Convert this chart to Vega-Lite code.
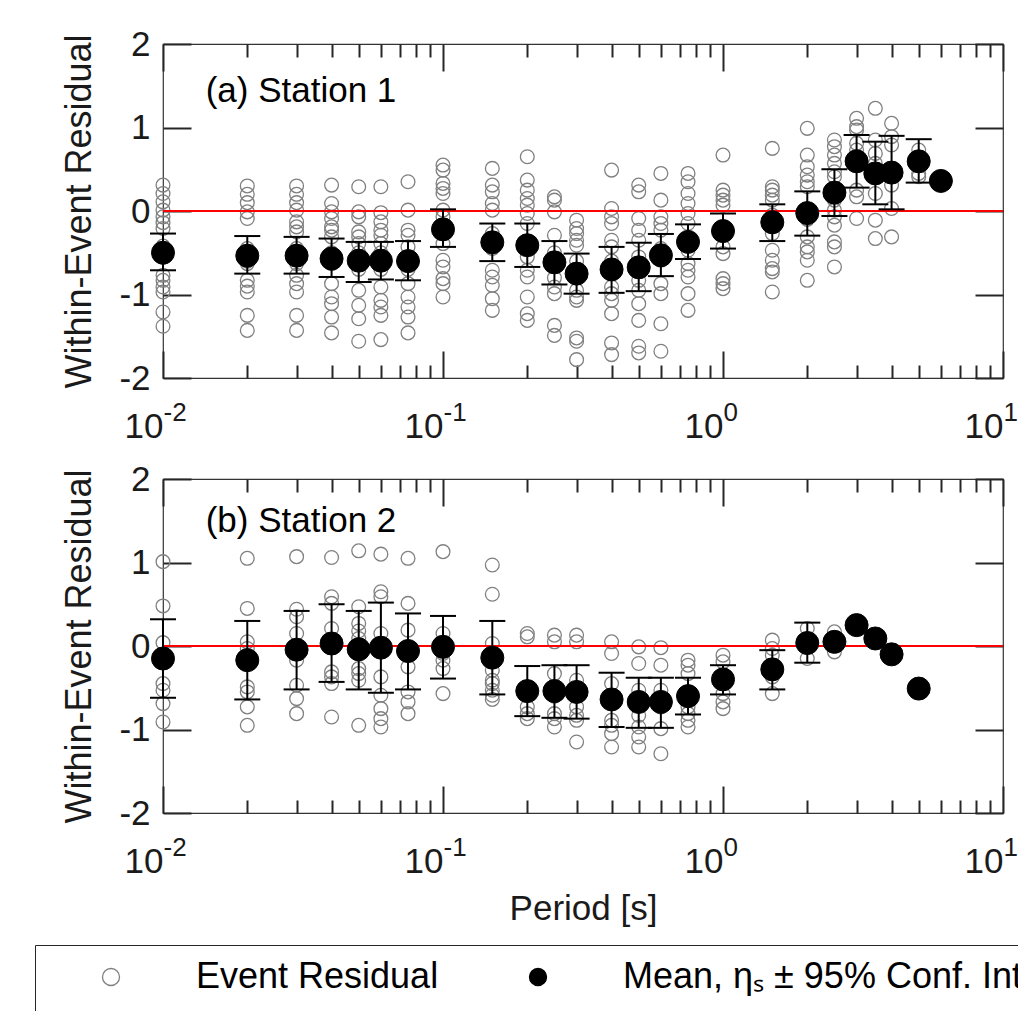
{
  "$schema": "https://vega.github.io/schema/vega-lite/v6.json",
  "padding": {"left": 34, "top": 26, "right": 0, "bottom": 0},
  "background": "white",
  "datasets": {
    "p1": [
      {"T":0.01,"v":0.31},{"T":0.01,"v":0.21},{"T":0.01,"v":0.11},{"T":0.01,"v":0.01},{"T":0.01,"v":-0.07},{"T":0.01,"v":-0.14},{"T":0.01,"v":-0.21},{"T":0.01,"v":-0.42},{"T":0.01,"v":-0.55},{"T":0.01,"v":-0.77},{"T":0.01,"v":-0.83},{"T":0.01,"v":-0.91},{"T":0.01,"v":-0.97},{"T":0.01,"v":-1.21},{"T":0.01,"v":-1.38},
      {"T":0.02,"v":0.30},{"T":0.02,"v":0.20},{"T":0.02,"v":0.10},{"T":0.02,"v":-0.01},{"T":0.02,"v":-0.09},{"T":0.02,"v":-0.45},{"T":0.02,"v":-0.60},{"T":0.02,"v":-0.63},{"T":0.02,"v":-0.83},{"T":0.02,"v":-0.90},{"T":0.02,"v":-0.97},{"T":0.02,"v":-1.25},{"T":0.02,"v":-1.43},
      {"T":0.03,"v":0.30},{"T":0.03,"v":0.20},{"T":0.03,"v":0.10},{"T":0.03,"v":0.01},{"T":0.03,"v":-0.13},{"T":0.03,"v":-0.19},{"T":0.03,"v":-0.25},{"T":0.03,"v":-0.45},{"T":0.03,"v":-0.63},{"T":0.03,"v":-0.77},{"T":0.03,"v":-0.87},{"T":0.03,"v":-0.97},{"T":0.03,"v":-1.25},{"T":0.03,"v":-1.43},
      {"T":0.04,"v":0.31},{"T":0.04,"v":0.09},{"T":0.04,"v":-0.01},{"T":0.04,"v":-0.09},{"T":0.04,"v":-0.19},{"T":0.04,"v":-0.23},{"T":0.04,"v":-0.31},{"T":0.04,"v":-0.50},{"T":0.04,"v":-0.63},{"T":0.04,"v":-0.87},{"T":0.04,"v":-1.03},{"T":0.04,"v":-1.11},{"T":0.04,"v":-1.27},{"T":0.04,"v":-1.46},
      {"T":0.05,"v":0.29},{"T":0.05,"v":-0.01},{"T":0.05,"v":-0.07},{"T":0.05,"v":-0.25},{"T":0.05,"v":-0.31},{"T":0.05,"v":-0.39},{"T":0.05,"v":-0.50},{"T":0.05,"v":-0.70},{"T":0.05,"v":-0.95},{"T":0.05,"v":-1.13},{"T":0.05,"v":-1.29},{"T":0.05,"v":-1.56},
      {"T":0.06,"v":0.29},{"T":0.06,"v":-0.02},{"T":0.06,"v":-0.13},{"T":0.06,"v":-0.23},{"T":0.06,"v":-0.29},{"T":0.06,"v":-0.39},{"T":0.06,"v":-0.50},{"T":0.06,"v":-0.70},{"T":0.06,"v":-0.91},{"T":0.06,"v":-1.07},{"T":0.06,"v":-1.15},{"T":0.06,"v":-1.25},{"T":0.06,"v":-1.54},
      {"T":0.075,"v":0.35},{"T":0.075,"v":0.01},{"T":0.075,"v":-0.23},{"T":0.075,"v":-0.29},{"T":0.075,"v":-0.43},{"T":0.075,"v":-0.70},{"T":0.075,"v":-0.87},{"T":0.075,"v":-1.03},{"T":0.075,"v":-1.15},{"T":0.075,"v":-1.27},{"T":0.075,"v":-1.46},
      {"T":0.1,"v":0.55},{"T":0.1,"v":0.49},{"T":0.1,"v":0.33},{"T":0.1,"v":0.27},{"T":0.1,"v":0.21},{"T":0.1,"v":0.01},{"T":0.1,"v":-0.07},{"T":0.1,"v":-0.39},{"T":0.1,"v":-0.59},{"T":0.1,"v":-0.67},{"T":0.1,"v":-0.81},{"T":0.1,"v":-0.87},{"T":0.1,"v":-1.03},
      {"T":0.15,"v":0.51},{"T":0.15,"v":0.31},{"T":0.15,"v":0.23},{"T":0.15,"v":0.09},{"T":0.15,"v":0.01},{"T":0.15,"v":-0.27},{"T":0.15,"v":-0.45},{"T":0.15,"v":-0.71},{"T":0.15,"v":-0.79},{"T":0.15,"v":-0.89},{"T":0.15,"v":-1.05},{"T":0.15,"v":-1.19},
      {"T":0.2,"v":0.65},{"T":0.2,"v":0.37},{"T":0.2,"v":0.25},{"T":0.2,"v":0.15},{"T":0.2,"v":0.07},{"T":0.2,"v":-0.03},{"T":0.2,"v":-0.15},{"T":0.2,"v":-0.55},{"T":0.2,"v":-0.71},{"T":0.2,"v":-0.79},{"T":0.2,"v":-1.03},{"T":0.2,"v":-1.23},{"T":0.2,"v":-1.31},
      {"T":0.25,"v":0.17},{"T":0.25,"v":0.13},{"T":0.25,"v":-0.01},{"T":0.25,"v":-0.29},{"T":0.25,"v":-0.50},{"T":0.25,"v":-0.63},{"T":0.25,"v":-0.80},{"T":0.25,"v":-0.91},{"T":0.25,"v":-0.99},{"T":0.25,"v":-1.37},{"T":0.25,"v":-1.49},
      {"T":0.3,"v":-0.11},{"T":0.3,"v":-0.21},{"T":0.3,"v":-0.27},{"T":0.3,"v":-0.35},{"T":0.3,"v":-0.41},{"T":0.3,"v":-0.60},{"T":0.3,"v":-0.95},{"T":0.3,"v":-1.03},{"T":0.3,"v":-1.07},{"T":0.3,"v":-1.52},{"T":0.3,"v":-1.56},{"T":0.3,"v":-1.78},
      {"T":0.4,"v":0.49},{"T":0.4,"v":0.03},{"T":0.4,"v":-0.07},{"T":0.4,"v":-0.15},{"T":0.4,"v":-0.35},{"T":0.4,"v":-0.43},{"T":0.4,"v":-0.60},{"T":0.4,"v":-0.91},{"T":0.4,"v":-0.99},{"T":0.4,"v":-1.07},{"T":0.4,"v":-1.23},{"T":0.4,"v":-1.58},{"T":0.4,"v":-1.72},
      {"T":0.5,"v":0.31},{"T":0.5,"v":0.23},{"T":0.5,"v":-0.09},{"T":0.5,"v":-0.23},{"T":0.5,"v":-0.35},{"T":0.5,"v":-0.55},{"T":0.5,"v":-0.83},{"T":0.5,"v":-0.95},{"T":0.5,"v":-1.11},{"T":0.5,"v":-1.31},{"T":0.5,"v":-1.62},{"T":0.5,"v":-1.70},
      {"T":0.6,"v":0.45},{"T":0.6,"v":0.13},{"T":0.6,"v":-0.07},{"T":0.6,"v":-0.15},{"T":0.6,"v":-0.23},{"T":0.6,"v":-0.45},{"T":0.6,"v":-0.59},{"T":0.6,"v":-0.87},{"T":0.6,"v":-0.99},{"T":0.6,"v":-1.35},{"T":0.6,"v":-1.68},
      {"T":0.75,"v":0.45},{"T":0.75,"v":0.35},{"T":0.75,"v":0.21},{"T":0.75,"v":0.09},{"T":0.75,"v":-0.03},{"T":0.75,"v":-0.15},{"T":0.75,"v":-0.47},{"T":0.75,"v":-0.63},{"T":0.75,"v":-0.71},{"T":0.75,"v":-0.79},{"T":0.75,"v":-0.99},{"T":0.75,"v":-1.19},
      {"T":1,"v":0.67},{"T":1,"v":0.25},{"T":1,"v":0.19},{"T":1,"v":0.13},{"T":1,"v":0.07},{"T":1,"v":-0.43},{"T":1,"v":-0.51},{"T":1,"v":-0.81},{"T":1,"v":-0.87},{"T":1,"v":-0.93},
      {"T":1.5,"v":0.75},{"T":1.5,"v":0.29},{"T":1.5,"v":0.25},{"T":1.5,"v":0.19},{"T":1.5,"v":0.13},{"T":1.5,"v":-0.05},{"T":1.5,"v":-0.27},{"T":1.5,"v":-0.47},{"T":1.5,"v":-0.59},{"T":1.5,"v":-0.69},{"T":1.5,"v":-0.73},{"T":1.5,"v":-0.97},
      {"T":2,"v":0.99},{"T":2,"v":0.67},{"T":2,"v":0.53},{"T":2,"v":0.43},{"T":2,"v":0.35},{"T":2,"v":0.29},{"T":2,"v":-0.10},{"T":2,"v":-0.31},{"T":2,"v":-0.43},{"T":2,"v":-0.49},{"T":2,"v":-0.59},{"T":2,"v":-0.83},
      {"T":2.5,"v":0.85},{"T":2.5,"v":0.77},{"T":2.5,"v":0.67},{"T":2.5,"v":0.57},{"T":2.5,"v":0.47},{"T":2.5,"v":0.41},{"T":2.5,"v":0.13},{"T":2.5,"v":0.01},{"T":2.5,"v":-0.07},{"T":2.5,"v":-0.17},{"T":2.5,"v":-0.37},{"T":2.5,"v":-0.43},{"T":2.5,"v":-0.67},
      {"T":3,"v":1.11},{"T":3,"v":1.01},{"T":3,"v":0.97},{"T":3,"v":0.81},{"T":3,"v":0.73},{"T":3,"v":0.25},{"T":3,"v":0.17},{"T":3,"v":-0.09},
      {"T":3.5,"v":1.23},{"T":3.5,"v":0.85},{"T":3.5,"v":0.69},{"T":3.5,"v":0.57},{"T":3.5,"v":0.21},{"T":3.5,"v":-0.11},{"T":3.5,"v":-0.33},
      {"T":4,"v":1.05},{"T":4,"v":0.89},{"T":4,"v":0.79},{"T":4,"v":0.45},{"T":4,"v":0.31},{"T":4,"v":0.03},{"T":4,"v":-0.31},
      {"T":5,"v":0.73},{"T":5,"v":0.59},{"T":5,"v":0.45},{"T":5,"v":0.41}
    ],
    "m1": [
      {"T":0.01,"m":-0.50,"lo":-0.71,"hi":-0.27},
      {"T":0.02,"m":-0.535,"lo":-0.75,"hi":-0.30},
      {"T":0.03,"m":-0.535,"lo":-0.75,"hi":-0.31},
      {"T":0.04,"m":-0.57,"lo":-0.79,"hi":-0.33},
      {"T":0.05,"m":-0.595,"lo":-0.85,"hi":-0.37},
      {"T":0.06,"m":-0.595,"lo":-0.82,"hi":-0.37},
      {"T":0.075,"m":-0.60,"lo":-0.83,"hi":-0.36},
      {"T":0.1,"m":-0.22,"lo":-0.43,"hi":0.02},
      {"T":0.15,"m":-0.375,"lo":-0.60,"hi":-0.15},
      {"T":0.2,"m":-0.41,"lo":-0.67,"hi":-0.15},
      {"T":0.25,"m":-0.615,"lo":-0.88,"hi":-0.36},
      {"T":0.3,"m":-0.75,"lo":-0.99,"hi":-0.51},
      {"T":0.4,"m":-0.70,"lo":-0.98,"hi":-0.43},
      {"T":0.5,"m":-0.675,"lo":-0.96,"hi":-0.38},
      {"T":0.6,"m":-0.53,"lo":-0.78,"hi":-0.275},
      {"T":0.75,"m":-0.37,"lo":-0.575,"hi":-0.16},
      {"T":1,"m":-0.24,"lo":-0.45,"hi":-0.03},
      {"T":1.5,"m":-0.135,"lo":-0.36,"hi":0.08},
      {"T":2,"m":-0.025,"lo":-0.295,"hi":0.235},
      {"T":2.5,"m":0.22,"lo":-0.06,"hi":0.50},
      {"T":3,"m":0.595,"lo":0.28,"hi":0.91},
      {"T":3.5,"m":0.45,"lo":0.08,"hi":0.83},
      {"T":4,"m":0.46,"lo":0.02,"hi":0.90},
      {"T":5,"m":0.595,"lo":0.34,"hi":0.86},
      {"T":6,"m":0.36}
    ],
    "p2": [
      {"T":0.01,"v":1.01},{"T":0.01,"v":0.48},{"T":0.01,"v":0.04},{"T":0.01,"v":-0.13},{"T":0.01,"v":-0.45},{"T":0.01,"v":-0.53},{"T":0.01,"v":-0.69},{"T":0.01,"v":-0.91},
      {"T":0.02,"v":1.05},{"T":0.02,"v":0.45},{"T":0.02,"v":0.05},{"T":0.02,"v":-0.03},{"T":0.02,"v":-0.49},{"T":0.02,"v":-0.55},{"T":0.02,"v":-0.73},{"T":0.02,"v":-0.95},
      {"T":0.03,"v":1.07},{"T":0.03,"v":0.44},{"T":0.03,"v":0.35},{"T":0.03,"v":0.15},{"T":0.03,"v":-0.17},{"T":0.03,"v":-0.47},{"T":0.03,"v":-0.63},{"T":0.03,"v":-0.81},
      {"T":0.04,"v":1.06},{"T":0.04,"v":0.59},{"T":0.04,"v":0.51},{"T":0.04,"v":0.21},{"T":0.04,"v":-0.31},{"T":0.04,"v":-0.37},{"T":0.04,"v":-0.45},{"T":0.04,"v":-0.85},
      {"T":0.05,"v":1.14},{"T":0.05,"v":0.47},{"T":0.05,"v":0.27},{"T":0.05,"v":0.18},{"T":0.05,"v":0.09},{"T":0.05,"v":-0.27},{"T":0.05,"v":-0.33},{"T":0.05,"v":-0.41},{"T":0.05,"v":-0.95},
      {"T":0.06,"v":1.10},{"T":0.06,"v":0.65},{"T":0.06,"v":0.59},{"T":0.06,"v":0.15},{"T":0.06,"v":-0.37},{"T":0.06,"v":-0.59},{"T":0.06,"v":-0.75},{"T":0.06,"v":-0.87},{"T":0.06,"v":-0.97},
      {"T":0.075,"v":1.05},{"T":0.075,"v":0.51},{"T":0.075,"v":0.19},{"T":0.075,"v":-0.25},{"T":0.075,"v":-0.55},{"T":0.075,"v":-0.67},{"T":0.075,"v":-0.81},
      {"T":0.1,"v":1.13},{"T":0.1,"v":0.15},{"T":0.1,"v":-0.09},{"T":0.1,"v":-0.17},{"T":0.1,"v":-0.27},{"T":0.1,"v":-0.57},
      {"T":0.15,"v":0.97},{"T":0.15,"v":0.62},{"T":0.15,"v":0.03},{"T":0.15,"v":-0.29},{"T":0.15,"v":-0.41},{"T":0.15,"v":-0.45},{"T":0.15,"v":-0.53},{"T":0.15,"v":-0.59},{"T":0.15,"v":-0.64},
      {"T":0.2,"v":0.15},{"T":0.2,"v":0.11},{"T":0.2,"v":-0.50},{"T":0.2,"v":-0.73},{"T":0.2,"v":-0.81},{"T":0.2,"v":-0.87},
      {"T":0.25,"v":0.13},{"T":0.25,"v":0.05},{"T":0.25,"v":-0.33},{"T":0.25,"v":-0.60},{"T":0.25,"v":-0.81},{"T":0.25,"v":-0.87},{"T":0.25,"v":-0.97},
      {"T":0.3,"v":0.13},{"T":0.3,"v":0.05},{"T":0.3,"v":-0.41},{"T":0.3,"v":-0.73},{"T":0.3,"v":-0.83},{"T":0.3,"v":-0.89},{"T":0.3,"v":-1.15},
      {"T":0.4,"v":0.05},{"T":0.4,"v":-0.09},{"T":0.4,"v":-0.45},{"T":0.4,"v":-0.89},{"T":0.4,"v":-0.95},{"T":0.4,"v":-1.05},{"T":0.4,"v":-1.21},
      {"T":0.5,"v":-0.01},{"T":0.5,"v":-0.21},{"T":0.5,"v":-0.53},{"T":0.5,"v":-0.70},{"T":0.5,"v":-0.83},{"T":0.5,"v":-0.97},{"T":0.5,"v":-1.09},{"T":0.5,"v":-1.21},
      {"T":0.6,"v":-0.02},{"T":0.6,"v":-0.23},{"T":0.6,"v":-0.53},{"T":0.6,"v":-0.73},{"T":0.6,"v":-0.99},{"T":0.6,"v":-1.29},
      {"T":0.75,"v":-0.17},{"T":0.75,"v":-0.23},{"T":0.75,"v":-0.33},{"T":0.75,"v":-0.73},{"T":0.75,"v":-0.81},{"T":0.75,"v":-0.89},{"T":0.75,"v":-0.97},
      {"T":1,"v":-0.11},{"T":1,"v":-0.19},{"T":1,"v":-0.57},{"T":1,"v":-0.67},{"T":1,"v":-0.75},
      {"T":1.5,"v":0.07},{"T":1.5,"v":-0.03},{"T":1.5,"v":-0.11},{"T":1.5,"v":-0.37},{"T":1.5,"v":-0.57},
      {"T":2,"v":0.21},{"T":2,"v":-0.15},
      {"T":2.5,"v":0.17},{"T":2.5,"v":-0.07}
    ],
    "m2": [
      {"T":0.01,"m":-0.15,"lo":-0.62,"hi":0.32},
      {"T":0.02,"m":-0.17,"lo":-0.64,"hi":0.30},
      {"T":0.03,"m":-0.044,"lo":-0.52,"hi":0.42},
      {"T":0.04,"m":0.03,"lo":-0.43,"hi":0.50},
      {"T":0.05,"m":-0.04,"lo":-0.52,"hi":0.42},
      {"T":0.06,"m":-0.02,"lo":-0.56,"hi":0.52},
      {"T":0.075,"m":-0.06,"lo":-0.52,"hi":0.39},
      {"T":0.1,"m":-0.01,"lo":-0.39,"hi":0.36},
      {"T":0.15,"m":-0.14,"lo":-0.58,"hi":0.30},
      {"T":0.2,"m":-0.54,"lo":-0.84,"hi":-0.24},
      {"T":0.25,"m":-0.54,"lo":-0.86,"hi":-0.23},
      {"T":0.3,"m":-0.55,"lo":-0.87,"hi":-0.23},
      {"T":0.4,"m":-0.64,"lo":-0.97,"hi":-0.32},
      {"T":0.5,"m":-0.67,"lo":-0.98,"hi":-0.38},
      {"T":0.6,"m":-0.67,"lo":-0.98,"hi":-0.38},
      {"T":0.75,"m":-0.60,"lo":-0.82,"hi":-0.38},
      {"T":1,"m":-0.40,"lo":-0.58,"hi":-0.23},
      {"T":1.5,"m":-0.28,"lo":-0.52,"hi":-0.05},
      {"T":2,"m":0.036,"lo":-0.20,"hi":0.28},
      {"T":2.5,"m":0.05},
      {"T":3,"m":0.25},
      {"T":3.5,"m":0.09},
      {"T":4,"m":-0.10},
      {"T":5,"m":-0.51}
    ]
  },
  "bounds": "flush",
  "spacing": 101,
  "vconcat": [
    {
      "width": 840,
      "height": 334,
      "resolve": {"axis": {"x": "independent", "y": "independent"}},
      "layer": [
        {
          "data": {"name": "p1"},
          "mark": {"type": "point", "shape": "circle", "filled": false, "size": 190, "strokeWidth": 1.3, "opacity": 1},
          "encoding": {
            "x": {"field": "T", "type": "quantitative", "scale": {"type": "log", "domain": [0.01, 10], "nice": false},
                  "axis": {"orient": "bottom", "values": [0.01, 0.1, 1, 10], "tickSize": -27, "labels": false, "title": null}},
            "y": {"field": "v", "type": "quantitative", "scale": {"domain": [-2, 2], "nice": false, "zero": false},
                  "axis": {"orient": "left", "values": [-2, -1, 0, 1, 2], "tickSize": -28, "labels": false, "title": null}},
            "stroke": {"datum": "Event Residual", "type": "nominal",
                      "scale": {"domain": ["Event Residual", "Mean, ηₛ ± 95% Conf. Interval"], "range": ["#808080", "#000000"]},
                      "legend": {"orient": "none", "legendX": -128, "legendY": 901, "direction": "horizontal",
                                 "title": " ", "titleOrient": "bottom", "titleFontSize": 30, "titlePadding": 10,
                                 "labelFontSize": 36, "labelFont": "Liberation Sans", "labelColor": "#000000", "labelLimit": 2000,
                                 "symbolType": "circle", "symbolSize": 290, "symbolStrokeWidth": 1.3, "symbolOffset": 44,
                                 "labelOffset": 67, "columnPadding": 37, "padding": 14, "strokeColor": "#262626"}},
            "fill": {"datum": "Event Residual", "type": "nominal",
                      "scale": {"domain": ["Event Residual", "Mean, ηₛ ± 95% Conf. Interval"], "range": ["transparent", "#000000"]},
                      "legend": {"orient": "none", "legendX": -128, "legendY": 901, "direction": "horizontal",
                                 "title": " ", "titleOrient": "bottom", "titleFontSize": 30, "titlePadding": 10,
                                 "labelFontSize": 36, "labelFont": "Liberation Sans", "labelColor": "#000000", "labelLimit": 2000,
                                 "symbolType": "circle", "symbolSize": 290, "symbolStrokeWidth": 1.3, "symbolOffset": 44,
                                 "labelOffset": 67, "columnPadding": 37, "padding": 14, "strokeColor": "#262626"}}
          }
        },
        {
          "data": {"values": [{}]},
          "mark": {"type": "rule", "color": "#ff0000", "strokeWidth": 2},
          "encoding": {
            "y": {"datum": 0, "type": "quantitative", "scale": {"domain": [-2, 2], "nice": false, "zero": false},
                  "axis": {"orient": "right", "values": [-2, -1, 0, 1, 2], "tickSize": -28, "labels": false, "title": null}}
          }
        },
        {
          "data": {"name": "m1"},
          "mark": {"type": "rule", "color": "#000000", "strokeWidth": 2},
          "encoding": {
            "x": {"field": "T", "type": "quantitative", "scale": {"type": "log", "domain": [0.01, 10], "nice": false},
                  "axis": {"orient": "bottom", "values": [0.02,0.03,0.04,0.05,0.06,0.07,0.08,0.09,0.2,0.3,0.4,0.5,0.6,0.7,0.8,0.9,2,3,4,5,6,7,8,9], "tickSize": -13, "labels": false, "title": null}},
            "y": {"field": "lo", "type": "quantitative", "scale": {"domain": [-2, 2], "nice": false, "zero": false},
                  "axis": {"orient": "left", "values": [-2, -1, 0, 1, 2], "ticks": false, "labelFontSize": 35, "labelPadding": 13,
                           "labelExpr": "'' + datum.value", "title": "Within-Event Residual", "titleFontSize": 36, "titlePadding": 20}},
            "y2": {"field": "hi"}
          }
        },
        {
          "data": {"name": "m1"},
          "mark": {"type": "tick", "orient": "horizontal", "size": 26, "thickness": 2, "color": "#000000", "opacity": 1},
          "encoding": {
            "x": {"field": "T", "type": "quantitative", "scale": {"type": "log", "domain": [0.01, 10], "nice": false},
                  "axis": {"orient": "top", "values": [0.01, 0.1, 1, 10], "tickSize": -27, "labels": false, "title": null}},
            "y": {"field": "lo", "type": "quantitative", "scale": {"domain": [-2, 2], "nice": false, "zero": false}, "axis": null}
          }
        },
        {
          "data": {"name": "m1"},
          "mark": {"type": "tick", "orient": "horizontal", "size": 26, "thickness": 2, "color": "#000000", "opacity": 1},
          "encoding": {
            "x": {"field": "T", "type": "quantitative", "scale": {"type": "log", "domain": [0.01, 10], "nice": false},
                  "axis": {"orient": "top", "values": [0.02,0.03,0.04,0.05,0.06,0.07,0.08,0.09,0.2,0.3,0.4,0.5,0.6,0.7,0.8,0.9,2,3,4,5,6,7,8,9], "tickSize": -13, "labels": false, "title": null}},
            "y": {"field": "hi", "type": "quantitative", "scale": {"domain": [-2, 2], "nice": false, "zero": false}, "axis": null}
          }
        },
        {
          "data": {"name": "m1"},
          "mark": {"type": "circle", "size": 530, "opacity": 1, "strokeWidth": 1},
          "encoding": {
            "x": {"field": "T", "type": "quantitative", "scale": {"type": "log", "domain": [0.01, 10], "nice": false},
                  "axis": {"orient": "bottom", "values": [0.01, 0.1, 1, 10], "ticks": false, "labelExpr": "'10'", "labelAlign": "right",
                           "labelBaseline": "alphabetic", "labelPadding": 59, "labelFontSize": 35, "labelDx": 1, "title": null}},
            "y": {"field": "m", "type": "quantitative", "scale": {"domain": [-2, 2], "nice": false, "zero": false}, "axis": null},
            "stroke": {"datum": "Mean, ηₛ ± 95% Conf. Interval", "type": "nominal",
                      "scale": {"domain": ["Event Residual", "Mean, ηₛ ± 95% Conf. Interval"], "range": ["#808080", "#000000"]}},
            "fill": {"datum": "Mean, ηₛ ± 95% Conf. Interval", "type": "nominal",
                      "scale": {"domain": ["Event Residual", "Mean, ηₛ ± 95% Conf. Interval"], "range": ["transparent", "#000000"]}}
          }
        },
        {
          "data": {"values": [{}]},
          "mark": {"type": "text", "align": "left", "baseline": "alphabetic", "fontSize": 35, "color": "#000000"},
          "encoding": {
            "x": {"datum": 0.0142, "type": "quantitative", "scale": {"type": "log", "domain": [0.01, 10], "nice": false},
                  "axis": {"orient": "bottom", "values": [0.01, 0.1, 1, 10], "ticks": false,
                           "labelExpr": "datum.value < 0.05 ? '-2' : datum.value < 0.5 ? '-1' : datum.value < 5 ? '0' : '1'",
                           "labelAlign": "left", "labelBaseline": "alphabetic", "labelPadding": 42, "labelFontSize": 26, "labelDx": 3, "title": null}},
            "y": {"datum": 1.31, "type": "quantitative", "scale": {"domain": [-2, 2], "nice": false, "zero": false}, "axis": null},
            "text": {"value": "(a) Station 1"}
          }
        }
      ]
    },
    {
      "width": 840,
      "height": 334,
      "resolve": {"axis": {"x": "independent", "y": "independent"}},
      "layer": [
        {
          "data": {"name": "p2"},
          "mark": {"type": "point", "shape": "circle", "filled": false, "size": 190, "strokeWidth": 1.3, "opacity": 1},
          "encoding": {
            "x": {"field": "T", "type": "quantitative", "scale": {"type": "log", "domain": [0.01, 10], "nice": false},
                  "axis": {"orient": "bottom", "values": [0.01, 0.1, 1, 10], "tickSize": -27, "labels": false, "title": null}},
            "y": {"field": "v", "type": "quantitative", "scale": {"domain": [-2, 2], "nice": false, "zero": false},
                  "axis": {"orient": "left", "values": [-2, -1, 0, 1, 2], "tickSize": -28, "labels": false, "title": null}},
            "stroke": {"datum": "Event Residual", "type": "nominal",
                      "scale": {"domain": ["Event Residual", "Mean, ηₛ ± 95% Conf. Interval"], "range": ["#808080", "#000000"]}},
            "fill": {"datum": "Event Residual", "type": "nominal",
                      "scale": {"domain": ["Event Residual", "Mean, ηₛ ± 95% Conf. Interval"], "range": ["transparent", "#000000"]}}
          }
        },
        {
          "data": {"values": [{}]},
          "mark": {"type": "rule", "color": "#ff0000", "strokeWidth": 2},
          "encoding": {
            "y": {"datum": 0, "type": "quantitative", "scale": {"domain": [-2, 2], "nice": false, "zero": false},
                  "axis": {"orient": "right", "values": [-2, -1, 0, 1, 2], "tickSize": -28, "labels": false, "title": null}}
          }
        },
        {
          "data": {"name": "m2"},
          "mark": {"type": "rule", "color": "#000000", "strokeWidth": 2},
          "encoding": {
            "x": {"field": "T", "type": "quantitative", "scale": {"type": "log", "domain": [0.01, 10], "nice": false},
                  "axis": {"orient": "bottom", "values": [0.02,0.03,0.04,0.05,0.06,0.07,0.08,0.09,0.2,0.3,0.4,0.5,0.6,0.7,0.8,0.9,2,3,4,5,6,7,8,9], "tickSize": -13, "labels": false, "title": null}},
            "y": {"field": "lo", "type": "quantitative", "scale": {"domain": [-2, 2], "nice": false, "zero": false},
                  "axis": {"orient": "left", "values": [-2, -1, 0, 1, 2], "ticks": false, "labelFontSize": 35, "labelPadding": 13,
                           "labelExpr": "'' + datum.value", "title": "Within-Event Residual", "titleFontSize": 36, "titlePadding": 20}},
            "y2": {"field": "hi"}
          }
        },
        {
          "data": {"name": "m2"},
          "mark": {"type": "tick", "orient": "horizontal", "size": 26, "thickness": 2, "color": "#000000", "opacity": 1},
          "encoding": {
            "x": {"field": "T", "type": "quantitative", "scale": {"type": "log", "domain": [0.01, 10], "nice": false},
                  "axis": {"orient": "top", "values": [0.01, 0.1, 1, 10], "tickSize": -27, "labels": false, "title": null}},
            "y": {"field": "lo", "type": "quantitative", "scale": {"domain": [-2, 2], "nice": false, "zero": false}, "axis": null}
          }
        },
        {
          "data": {"name": "m2"},
          "mark": {"type": "tick", "orient": "horizontal", "size": 26, "thickness": 2, "color": "#000000", "opacity": 1},
          "encoding": {
            "x": {"field": "T", "type": "quantitative", "scale": {"type": "log", "domain": [0.01, 10], "nice": false},
                  "axis": {"orient": "top", "values": [0.02,0.03,0.04,0.05,0.06,0.07,0.08,0.09,0.2,0.3,0.4,0.5,0.6,0.7,0.8,0.9,2,3,4,5,6,7,8,9], "tickSize": -13, "labels": false, "title": null}},
            "y": {"field": "hi", "type": "quantitative", "scale": {"domain": [-2, 2], "nice": false, "zero": false}, "axis": null}
          }
        },
        {
          "data": {"name": "m2"},
          "mark": {"type": "circle", "size": 530, "opacity": 1, "strokeWidth": 1},
          "encoding": {
            "x": {"field": "T", "type": "quantitative", "scale": {"type": "log", "domain": [0.01, 10], "nice": false},
                  "axis": {"orient": "bottom", "values": [0.01, 0.1, 1, 10], "ticks": false, "labelExpr": "'10'", "labelAlign": "right",
                           "labelBaseline": "alphabetic", "labelPadding": 59, "labelFontSize": 35, "labelDx": 1,
                           "title": "Period [s]", "titleFontSize": 35, "titlePadding": 12}},
            "y": {"field": "m", "type": "quantitative", "scale": {"domain": [-2, 2], "nice": false, "zero": false}, "axis": null},
            "stroke": {"datum": "Mean, ηₛ ± 95% Conf. Interval", "type": "nominal",
                      "scale": {"domain": ["Event Residual", "Mean, ηₛ ± 95% Conf. Interval"], "range": ["#808080", "#000000"]}},
            "fill": {"datum": "Mean, ηₛ ± 95% Conf. Interval", "type": "nominal",
                      "scale": {"domain": ["Event Residual", "Mean, ηₛ ± 95% Conf. Interval"], "range": ["transparent", "#000000"]}}
          }
        },
        {
          "data": {"values": [{}]},
          "mark": {"type": "text", "align": "left", "baseline": "alphabetic", "fontSize": 35, "color": "#000000"},
          "encoding": {
            "x": {"datum": 0.0142, "type": "quantitative", "scale": {"type": "log", "domain": [0.01, 10], "nice": false},
                  "axis": {"orient": "bottom", "values": [0.01, 0.1, 1, 10], "ticks": false,
                           "labelExpr": "datum.value < 0.05 ? '-2' : datum.value < 0.5 ? '-1' : datum.value < 5 ? '0' : '1'",
                           "labelAlign": "left", "labelBaseline": "alphabetic", "labelPadding": 42, "labelFontSize": 26, "labelDx": 3, "title": null}},
            "y": {"datum": 1.37, "type": "quantitative", "scale": {"domain": [-2, 2], "nice": false, "zero": false}, "axis": null},
            "text": {"value": "(b) Station 2"}
          }
        }
      ]
    }
  ],
  "config": {
    "font": "Liberation Sans",
    "view": {"stroke": "#333333", "strokeWidth": 1.2},
    "axis": {"grid": false, "domain": false, "labelColor": "#1a1a1a", "tickColor": "#262626", "tickWidth": 2,
             "labelFont": "Liberation Sans", "titleFont": "Liberation Sans", "titleColor": "#1a1a1a", "titleFontWeight": "normal",
             "labelFlush": false, "labelOverlap": false, "labelBound": false},
    "legend": {"labelFont": "Liberation Sans"}
  }
}
